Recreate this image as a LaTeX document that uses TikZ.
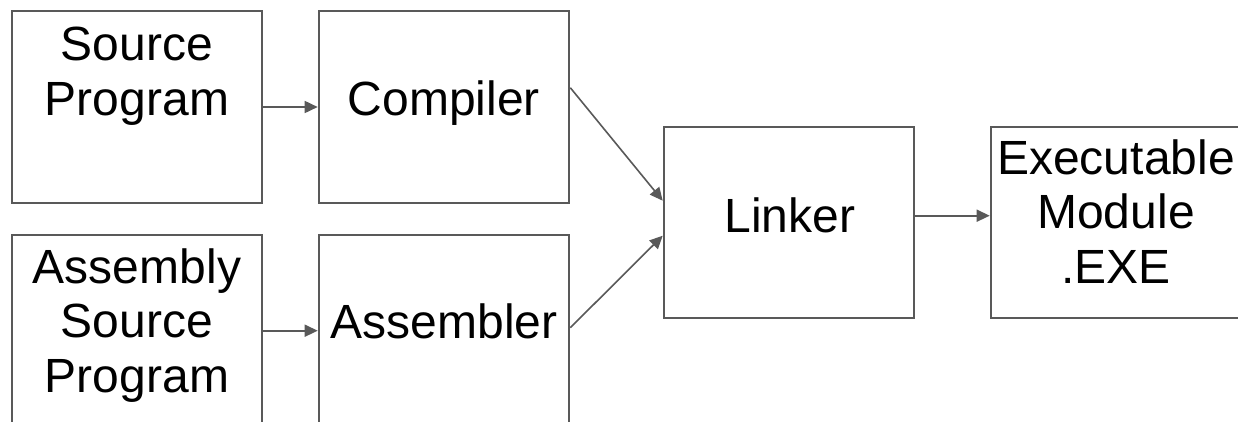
\documentclass[tikz,border=0pt]{standalone}
\usepackage{fontspec}
\setmainfont{Liberation Sans}
\usetikzlibrary{arrows.meta}
\definecolor{edge}{HTML}{595959}
\tikzset{
  box/.style={draw=edge, line width=2.6pt, minimum width=250pt, inner sep=0pt},
  txt/.style={anchor=base, align=center, font=\fontsize{48}{54.5}\selectfont, inner sep=0pt},
  link/.style={draw=edge, line width=1.6pt, -{Triangle[length=13pt,width=12pt]}}
}
\begin{document}
\begin{tikzpicture}[x=1pt,y=-1pt]
  \useasboundingbox (0,0) rectangle (1238,421);
  \clip (0,0) rectangle (1238,421);
  \fill[white] (0,0) rectangle (1238,421);

  % boxes
  \node[box, minimum height=192pt] (src)  at (137,107) {};
  \node[box, minimum height=192pt] (comp) at (444,107) {};
  \node[box, minimum height=200pt] (asrc) at (137,335) {};
  \node[box, minimum height=200pt] (asm)  at (444,335) {};
  \node[box, minimum height=191pt] (link) at (789,222.5) {};
  \node[box, minimum height=191pt] (exe)  at (1116,222.5) {};

  % labels (placed by the baseline of their last line)
  \node[txt] (tsrc)  at (137,115) {Source\\Program};
  \node[txt] (tcomp) at (444,115) {Compiler};
  \node[txt] (tasrc) at (137,392) {Assembly\\Source\\Program};
  \node[txt] (tasm)  at (444,338) {Assembler};
  \node[txt] (tlink) at (790,232) {Linker};
  \node[txt] (texe)  at (1116,283) {Executable\\Module\\.EXE};

  % connector end points
  \coordinate (compout) at ([yshift=-78pt]comp.north east);
  \coordinate (linkin1) at ([yshift=-75pt]link.north west);
  \coordinate (asmout)  at ([yshift=-94pt]asm.north east);
  \coordinate (linkin2) at ([yshift=-110pt]link.north west);
  \coordinate (asrcout) at ([yshift=-97pt]asrc.north east);
  \coordinate (linkout) at ([yshift=-90pt]link.north east);

  % connectors
  \draw[link] (src.east) -- (comp.west);
  \draw[link] (asrcout) -- (asrcout -| asm.west);
  \draw[link] (compout) -- (linkin1);
  \draw[link] (asmout) -- (linkin2);
  \draw[link] (linkout) -- (linkout -| exe.west);
\end{tikzpicture}
\end{document}
